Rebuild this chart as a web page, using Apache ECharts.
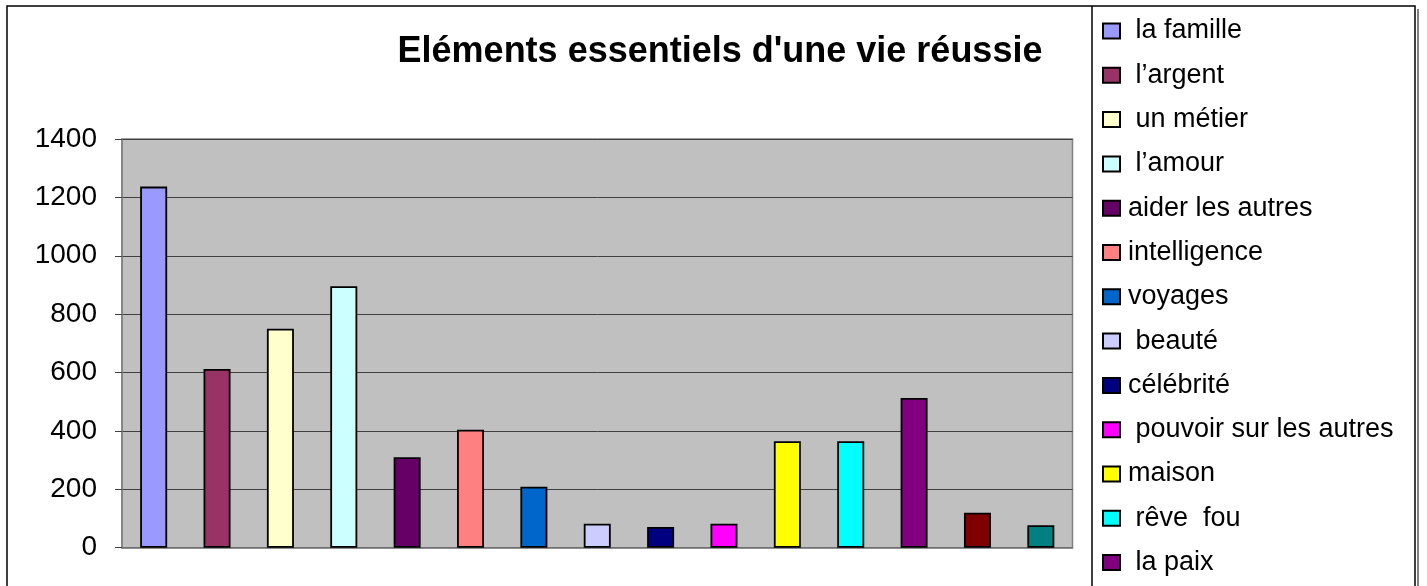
<!DOCTYPE html>
<html>
<head>
<meta charset="utf-8">
<script src="https://cdn.jsdelivr.net/npm/echarts@6/dist/echarts.min.js"></script>
<style>
html,body{margin:0;padding:0;background:#fff;}
#chart{width:1427px;height:586px;}
</style>
</head>
<body>
<div id="chart"></div>
<script>
const titleText = "Eléments essentiels d'une vie réussie";
const seriesNames = [" la famille", " l’argent", " un métier", " l’amour", "aider les autres", "intelligence", "voyages", " beauté", "célébrité", " pouvoir sur les autres", "maison", " rêve  fou", " la paix", "série 14", "série 15"];
const seriesValues = [1237, 612, 750, 896, 310, 404, 209, 82, 71, 82, 365, 365, 513, 120, 77];
const seriesColors = ["#9999FF", "#993366", "#FFFFCC", "#CCFFFF", "#660066", "#FF8080", "#0066CC", "#CCCCFF", "#000080", "#FF00FF", "#FFFF00", "#00FFFF", "#800080", "#800000", "#008080"];
const yTicks = [0, 200, 400, 600, 800, 1000, 1200, 1400];

const chart = echarts.init(document.getElementById('chart'));
const font = '"Liberation Sans", Arial, sans-serif';

const series = seriesNames.map((n, i) => ({
  name: n,
  type: 'bar',
  data: [seriesValues[i]],
  barWidth: 27,
  barGap: '134.7%',
  itemStyle: { color: seriesColors[i], borderColor: '#000', borderWidth: 1.8 },
  emphasis: { disabled: true },
  animation: false
}));

chart.setOption({
  animation: false,
  textStyle: { fontFamily: font },
  title: {
    text: titleText,
    left: 715,
    top: 29,
    textAlign: 'center',
    textStyle: { fontFamily: font, fontWeight: 'bold', fontSize: 36, color: '#000' }
  },
  legend: {
    orient: 'vertical',
    left: 1102,
    top: 17.5,
    height: 1000,
    padding: 0,
    itemGap: 17.3,
    itemWidth: 17,
    itemHeight: 15,
    icon: 'rect',
    data: seriesNames,
    textStyle: { fontFamily: font, fontSize: 27, color: '#000', padding: [0, 0, 0, 3] },
    selectedMode: false
  },
  grid: {
    left: 122, right: 354.5, top: 139, bottom: 38.3,
    show: true, backgroundColor: '#C0C0C0', borderColor: '#808080', borderWidth: 1.5
  },
  xAxis: {
    type: 'category',
    data: [''],
    axisLine: { lineStyle: { color: '#808080', width: 1.5 } },
    axisTick: { show: false },
    axisLabel: { show: false }
  },
  yAxis: {
    type: 'value',
    min: yTicks[0],
    max: yTicks[yTicks.length - 1],
    interval: 200,
    axisLine: { show: true, lineStyle: { color: '#808080', width: 1.5 } },
    axisTick: { show: true, length: 7, lineStyle: { color: '#404040' } },
    axisLabel: { fontFamily: font, fontSize: 28, color: '#000', margin: 25, formatter: v => String(v) },
    splitLine: { lineStyle: { color: '#404040', width: 1 } }
  },
  graphic: [
    { type: 'rect', shape: { x: 7, y: 6, width: 1408, height: 620 }, style: { fill: null, stroke: '#000', lineWidth: 1.5 }, silent: true, z: 100 },
    { type: 'line', shape: { x1: 1092, y1: 6, x2: 1092, y2: 600 }, style: { stroke: '#000', lineWidth: 1.5 }, silent: true, z: 100 },
    { type: 'line', shape: { x1: 1418, y1: 9, x2: 1418, y2: 600 }, style: { stroke: '#808080', lineWidth: 2 }, silent: true, z: 100 }
  ],
  series: series
});
</script>
</body>
</html>
